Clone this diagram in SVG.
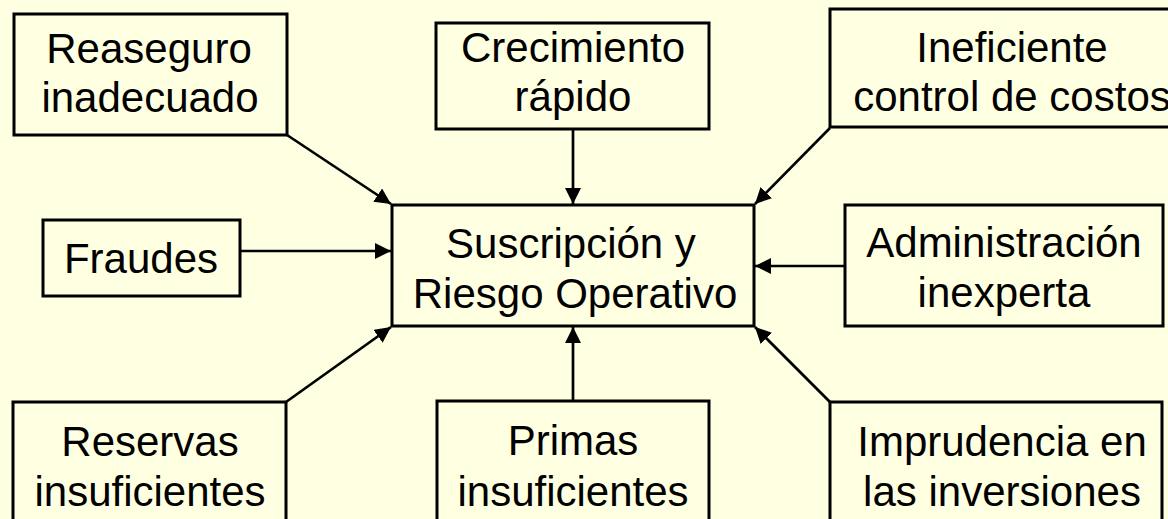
<svg xmlns="http://www.w3.org/2000/svg" width="1168" height="519" viewBox="0 0 1168 519">
<style>
.box{fill:#FFFFE1;stroke:#000;stroke-width:3}
.t{font-family:"Liberation Sans",Arial,sans-serif;font-size:42px;fill:#000;text-anchor:middle}
.c{stroke:#000;stroke-width:2.7;fill:none;marker-end:url(#ah)}
</style>
<defs>
<marker id="ah" markerUnits="userSpaceOnUse" markerWidth="18" markerHeight="18" refX="16" refY="8" orient="auto">
<path d="M0,0 L16,8 L0,16 z" fill="#000"/>
</marker>
</defs>
<rect width="1168" height="519" fill="#FFFFE1"/>
<g id="connectors">
<line class="c" x1="287" y1="135" x2="391" y2="204"/>
<line class="c" x1="573" y1="129" x2="573" y2="204"/>
<line class="c" x1="830" y1="128" x2="755" y2="204"/>
<line class="c" x1="240" y1="251" x2="391" y2="251"/>
<line class="c" x1="845" y1="266" x2="755" y2="266"/>
<line class="c" x1="286" y1="402" x2="391" y2="327"/>
<line class="c" x1="573" y1="401" x2="573" y2="327"/>
<line class="c" x1="830" y1="402" x2="755" y2="327"/>
</g>
<g id="reaseguro">
<rect class="box" x="14" y="14" width="273" height="121"/>
<text class="t" x="149" y="63">Reaseguro</text>
<text class="t" x="150" y="112">inadecuado</text>
</g>
<g id="crecimiento">
<rect class="box" x="436" y="23" width="273" height="106"/>
<text class="t" x="573" y="62">Crecimiento</text>
<text class="t" x="573" y="111">rápido</text>
</g>
<g id="ineficiente">
<rect class="box" x="830" y="9" width="365" height="118"/>
<text class="t" x="1012" y="62">Ineficiente</text>
<text class="t" x="1012" y="111">control de costos</text>
</g>
<g id="fraudes">
<rect class="box" x="43" y="220" width="197" height="76"/>
<text class="t" x="141" y="273">Fraudes</text>
</g>
<g id="central">
<rect class="box" x="392" y="205" width="362" height="121"/>
<text class="t" x="571" y="258">Suscripción y</text>
<text class="t" x="575" y="308">Riesgo Operativo</text>
</g>
<g id="administracion">
<rect class="box" x="845" y="205" width="318" height="121"/>
<text class="t" x="1004" y="257">Administración</text>
<text class="t" x="1004" y="307">inexperta</text>
</g>
<g id="reservas">
<rect class="box" x="13" y="402" width="273" height="140"/>
<text class="t" x="150" y="456">Reservas</text>
<text class="t" x="150" y="506">insuficientes</text>
</g>
<g id="primas">
<rect class="box" x="437" y="401" width="272" height="140"/>
<text class="t" x="573" y="455">Primas</text>
<text class="t" x="573" y="506">insuficientes</text>
</g>
<g id="imprudencia">
<rect class="box" x="830" y="402" width="332" height="140"/>
<text class="t" x="1002" y="456">Imprudencia en</text>
<text class="t" x="1002" y="506">las inversiones</text>
</g>
</svg>
